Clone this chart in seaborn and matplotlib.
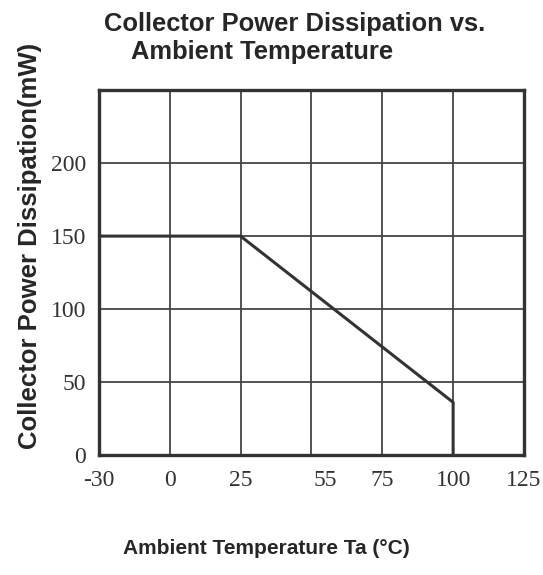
import matplotlib
matplotlib.use("Agg")
import matplotlib.pyplot as plt
import matplotlib.transforms as mtransforms
import pandas as pd
import seaborn as sns

# tick temperatures (equally spaced on the chart)
temp_ticks = [-30, 0, 25, 55, 75, 100, 125]
power_ticks = [0, 50, 100, 150, 200]

# derating curve
curve_temp = [-30, 25, 100, 100]
curve_power = [150, 150, 36, 0]

sns.set_theme(style="white")
plt.rcParams["font.family"] = ["Liberation Sans", "DejaVu Sans"]

curve = pd.DataFrame({
    "pos": [temp_ticks.index(t) for t in curve_temp],
    "power": curve_power,
})

fig = plt.figure(figsize=(5.43, 5.75), dpi=100)
ax = fig.add_axes([0.182, 0.209, 0.783, 0.634])

sns.lineplot(data=curve, x="pos", y="power", sort=False, estimator=None,
             color="#333333", linewidth=2.2, ax=ax, zorder=3)

ax.set_xlim(0, len(temp_ticks) - 1)
ax.set_ylim(0, 250)
ax.set_xticks(range(len(temp_ticks)))
ax.set_xticklabels([str(t) for t in temp_ticks])
ax.set_yticks(power_ticks)
ax.set_yticklabels([str(p) for p in power_ticks])
for lab in ax.get_xticklabels() + ax.get_yticklabels():
    lab.set_family("Liberation Serif")
    lab.set_fontsize(17)
    lab.set_color("#333333")
ax.tick_params(axis="y", length=0, pad=9)
ax.tick_params(axis="x", length=0, pad=11)

# the "55" label sits a little right of its grid line in the original
shift = mtransforms.ScaledTranslation(14 / 100, 0, fig.dpi_scale_trans)
lab55 = ax.get_xticklabels()[temp_ticks.index(55)]
lab55.set_transform(lab55.get_transform() + shift)

ax.grid(True, color="#444444", linewidth=1.3)
for s in ax.spines.values():
    s.set_visible(True)
    s.set_color("#333333")
    s.set_linewidth(2.4)

ax.set_xlabel("")
ax.set_ylabel("")

fig.text(295 / 543, 0.958, "Collector Power Dissipation vs.", ha="center",
         va="center", fontsize=18.4, fontweight="bold")
fig.text(262 / 543, 0.909, "Ambient Temperature", ha="center", va="center",
         fontsize=18.4, fontweight="bold")
fig.text(30 / 543, 1 - 246 / 575, "Collector Power Dissipation(mW)", rotation=90,
         ha="center", va="center", fontsize=18.5, fontweight="bold")
fig.text(266 / 543, 1 - 548 / 575, "Ambient Temperature Ta (\u00b0C)", ha="center",
         va="center", fontsize=15, fontweight="bold")

fig.savefig("out.png", dpi=100)
